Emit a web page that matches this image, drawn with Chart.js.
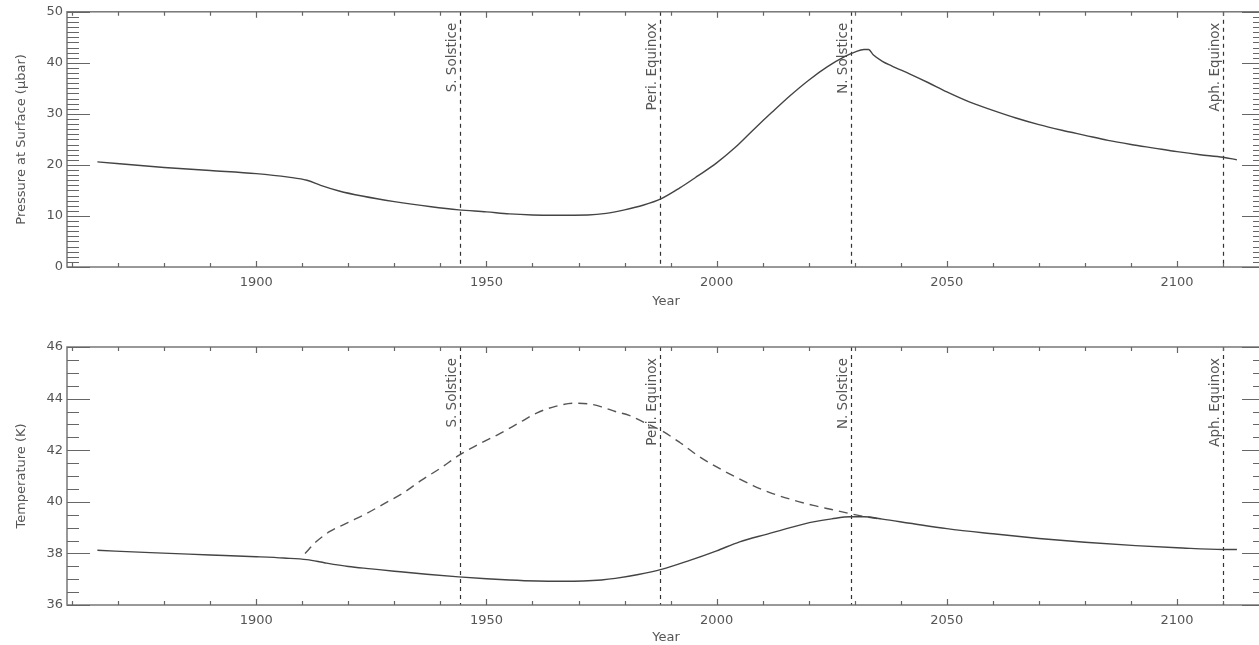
<!DOCTYPE html>
<html lang="en">
<head>
<meta charset="UTF-8">
<title>Pressure and temperature</title>
<style>
  html, body { margin: 0; padding: 0; background: #fff; overflow: hidden; }
  .panel { position: absolute; left: 0; }
  #top { top: 0; }
  #bottom { top: 320px; }
</style>
</head>
<body>
<div class="panel" id="top"><canvas id="pressure-chart" width="1268" height="320"></canvas></div>
<div class="panel" id="bottom"><canvas id="temp-chart" width="1268" height="325"></canvas></div>
<script src="https://cdn.jsdelivr.net/npm/chart.js@4.4.0/dist/chart.umd.min.js"></script>
<script>
// years shown on the x axis
var xTickLabels = [1900, 1950, 2000, 2050, 2100];
var pressureTicks = [0, 10, 20, 30, 40, 50];
var tempTicks = [36, 38, 40, 42, 44, 46];

// seasons marked with dashed lines
var eventNames = ["S. Solstice", "Peri. Equinox", "N. Solstice", "Aph. Equinox"];
var eventYears = [1944.2, 1987.8, 2029.1, 2109.9];

// surface pressure (microbar)
var pressureYears = [1865.5, 1880, 1890, 1900, 1907, 1911, 1914, 1918, 1923, 1930, 1938, 1944, 1950, 1955, 1960, 1965, 1972, 1976, 1980, 1984, 1988, 1992, 1996, 2000, 2004, 2008, 2012, 2016, 2020, 2024, 2028, 2030, 2032, 2033, 2034, 2036, 2038, 2042, 2046, 2050, 2055, 2060, 2065, 2070, 2075, 2080, 2085, 2090, 2095, 2100, 2105, 2110, 2113];
var pressureValues = [20.6, 19.5, 18.9, 18.3, 17.6, 17.0, 16.0, 14.9, 13.9, 12.8, 11.8, 11.2, 10.8, 10.4, 10.2, 10.15, 10.2, 10.5, 11.2, 12.1, 13.4, 15.5, 17.9, 20.4, 23.4, 26.9, 30.3, 33.6, 36.6, 39.2, 41.3, 42.1, 42.6, 42.6, 41.6, 40.3, 39.4, 37.8, 36.1, 34.3, 32.3, 30.7, 29.2, 27.9, 26.8, 25.8, 24.8, 24.0, 23.3, 22.6, 22.0, 21.5, 21.0];

// surface temperature (K), solid
var tempYears = [1865.5, 1877, 1890, 1900, 1906, 1911, 1915, 1920, 1925, 1930, 1937, 1944, 1950, 1955, 1961, 1966, 1971, 1975, 1978, 1983, 1988, 1994, 2000, 2005, 2011, 2016, 2021, 2025, 2029, 2032, 2036, 2042, 2050, 2060, 2070, 2080, 2091, 2100, 2110, 2113];
var tempValues = [38.12, 38.03, 37.94, 37.87, 37.82, 37.76, 37.63, 37.49, 37.40, 37.31, 37.19, 37.09, 37.02, 36.97, 36.93, 36.92, 36.93, 36.97, 37.03, 37.18, 37.38, 37.72, 38.10, 38.45, 38.75, 39.0, 39.22, 39.34, 39.42, 39.42, 39.33, 39.17, 38.96, 38.76, 38.58, 38.43, 38.30, 38.22, 38.15, 38.15];

// second temperature run, dashed
var tempAltYears = [1910.6, 1913, 1916, 1920, 1924, 1928, 1932, 1936, 1940, 1944, 1948, 1953, 1957, 1961, 1965, 1969, 1972, 1975, 1978, 1981, 1984, 1988, 1992, 1996, 2000, 2004, 2008, 2012, 2016, 2021, 2025, 2029, 2033, 2036];
var tempAltValues = [38.0, 38.45, 38.85, 39.2, 39.55, 39.95, 40.35, 40.85, 41.3, 41.8, 42.2, 42.65, 43.05, 43.45, 43.7, 43.82, 43.8, 43.68, 43.5, 43.35, 43.1, 42.76, 42.3, 41.78, 41.35, 40.97, 40.62, 40.33, 40.1, 39.86, 39.7, 39.54, 39.40, 39.33];

var FONT = "'DejaVu Sans', sans-serif";
var TEXT = "#555";

function pts(xs, ys) {
    return xs.map(function (x, i) { return {x: x, y: ys[i]}; });
}

// frame, inward ticks and season lines
var framePlugin = {
    id: 'frame',
    beforeDatasetsDraw: function (chart, args, opts) {
        var ctx = chart.ctx, a = chart.chartArea, xs = chart.scales.x;
        ctx.save();
        ctx.strokeStyle = "#333";
        ctx.lineWidth = 1.2;
        ctx.setLineDash([4, 4]);
        ctx.font = "13.5px " + FONT;
        ctx.fillStyle = TEXT;
        for (var i = 0; i < eventYears.length; i++) {
            var px = Math.round(xs.getPixelForValue(eventYears[i])) + 0.5;
            ctx.beginPath();
            ctx.moveTo(px, a.top);
            ctx.lineTo(px, a.bottom);
            ctx.stroke();
            ctx.save();
            ctx.translate(px - 1, a.top + 11);
            ctx.rotate(-Math.PI / 2);
            ctx.textAlign = 'right';
            ctx.textBaseline = 'bottom';
            ctx.fillText(eventNames[i], 0, 0);
            ctx.restore();
        }
        ctx.restore();
    },
    afterDraw: function (chart, args, opts) {
        var ctx = chart.ctx, a = chart.chartArea, xs = chart.scales.x, ys = chart.scales.y;
        ctx.save();
        ctx.strokeStyle = "#777";
        ctx.lineWidth = 1.5;
        ctx.strokeRect(a.left, a.top, a.right - a.left, a.bottom - a.top);
        ctx.lineWidth = 1.2;
        ctx.strokeStyle = "#666";
        ctx.beginPath();
        var v, p, len;
        for (v = opts.yMin; v <= opts.yMax + 1e-6; v += opts.yMinor) {
            p = Math.round(ys.getPixelForValue(v)) + 0.5;
            var major = Math.abs(v / opts.yMajor - Math.round(v / opts.yMajor)) < 1e-6;
            len = major ? 23 : 12;
            ctx.moveTo(a.left, p); ctx.lineTo(a.left + len, p);
            ctx.moveTo(a.right, p); ctx.lineTo(a.right - len, p);
        }
        for (v = 1860; v <= 2110; v += 10) {
            p = Math.round(xs.getPixelForValue(v)) + 0.5;
            len = (v % 50 === 0) ? 6 : 4;
            ctx.moveTo(p, a.bottom); ctx.lineTo(p, a.bottom - len);
            ctx.moveTo(p, a.top); ctx.lineTo(p, a.top + len);
        }
        ctx.stroke();
        ctx.restore();
    }
};

function makePanel(id, datasets, yTitle, yTicks, frame, padTop, xHeight, titlePad) {
    return new Chart(document.getElementById(id), {
        type: 'line',
        data: {datasets: datasets},
        plugins: [framePlugin],
        options: {
            responsive: false,
            animation: false,
            layout: {padding: {left: 0, right: 3, top: padTop, bottom: 0}},
            plugins: {
                legend: {display: false},
                tooltip: {enabled: false},
                frame: frame
            },
            scales: {
                x: {
                    type: 'linear',
                    min: 1858.9,
                    max: 2119.1,
                    grid: {display: false, drawTicks: false},
                    border: {display: false},
                    afterBuildTicks: function (s) {
                        s.ticks = xTickLabels.map(function (v) { return {value: v}; });
                    },
                    afterFit: function (s) { s.height = xHeight; },
                    ticks: {
                        color: TEXT, font: {family: FONT, size: 13}, padding: 8, maxRotation: 0,
                        callback: function (v) { return String(v); }
                    },
                    title: {display: true, text: 'Year', color: TEXT, font: {family: FONT, size: 13}, padding: {top: 0, bottom: titlePad}}
                },
                y: {
                    min: frame.yMin,
                    max: frame.yMax,
                    grid: {display: false, drawTicks: false},
                    border: {display: false},
                    afterBuildTicks: function (s) {
                        s.ticks = yTicks.map(function (v) { return {value: v}; });
                    },
                    afterFit: function (s) { s.width = 67; },
                    ticks: {color: TEXT, font: {family: FONT, size: 13}, padding: 4},
                    title: {display: true, text: yTitle, color: TEXT, font: {family: FONT, size: 13}, padding: {top: 14, bottom: 0}}
                }
            }
        }
    });
}

var lineStyle = {borderColor: '#444', borderWidth: 1.4, pointRadius: 0, cubicInterpolationMode: 'monotone', fill: false};

makePanel('pressure-chart', [
    Object.assign({label: 'Pressure', data: pts(pressureYears, pressureValues)}, lineStyle)
], 'Pressure at Surface (\u03bcbar)', pressureTicks,
    {yMin: 0, yMax: 50, yMinor: 1, yMajor: 10}, 10, 53, 11);

makePanel('temp-chart', [
    Object.assign({label: 'Temperature', data: pts(tempYears, tempValues)}, lineStyle),
    Object.assign({label: 'Temperature (alt)', data: pts(tempAltYears, tempAltValues)}, lineStyle, {borderColor: '#555', borderDash: [9, 6]})
], 'Temperature (K)', tempTicks,
    {yMin: 36, yMax: 46, yMinor: 0.5, yMajor: 2}, 27, 40, 0);
</script>
</body>
</html>
